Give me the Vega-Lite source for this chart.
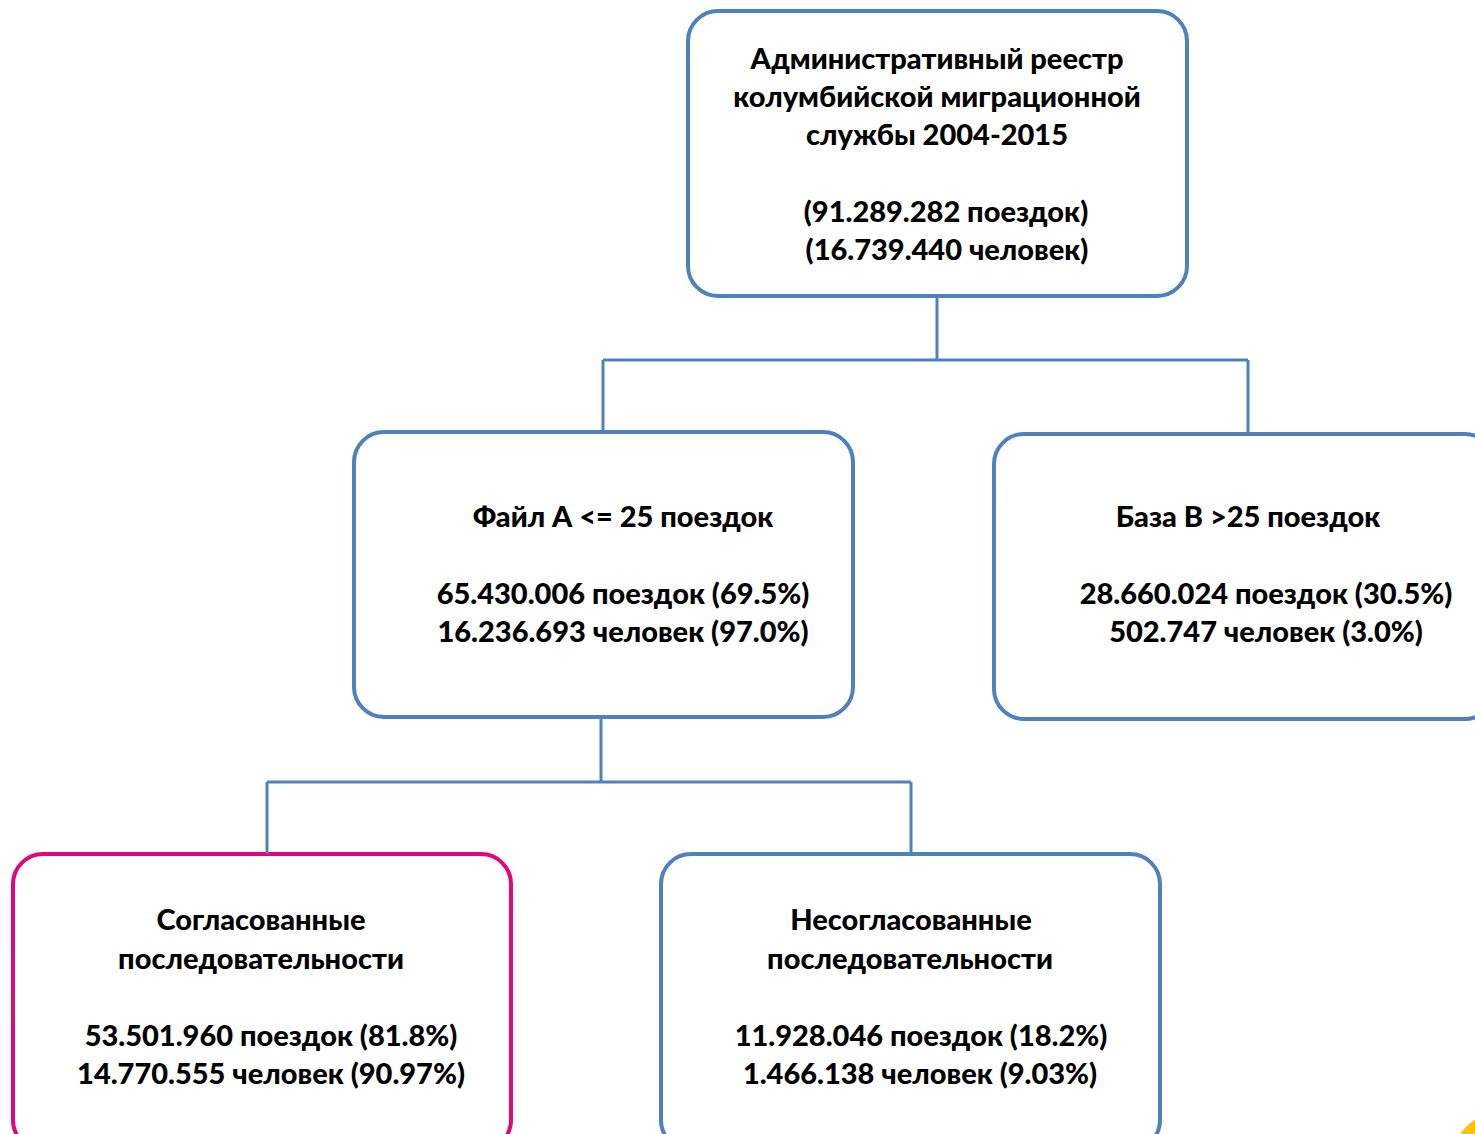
{
  "$schema": "https://vega.github.io/schema/vega-lite/v6.json",
  "autosize": {"type": "fit", "contains": "padding"},
  "width": 1475,
  "height": 1134,
  "padding": 0,
  "background": "white",
  "config": {"view": {"stroke": null}},
  "datasets": {
    "boxes": [
      {"id": "root", "x1": 688, "x2": 1187, "y1": 11, "y2": 296, "kind": "normal"},
      {"id": "A", "x1": 354, "x2": 853, "y1": 432, "y2": 717, "kind": "normal"},
      {"id": "B", "x1": 994, "x2": 1495, "y1": 434, "y2": 719, "kind": "normal"},
      {"id": "match", "x1": 13, "x2": 511, "y1": 854, "y2": 1150, "kind": "highlight"},
      {"id": "nomatch", "x1": 661, "x2": 1160, "y1": 854, "y2": 1150, "kind": "normal"}
    ],
    "links": [
      {"x1": 937, "y1": 296, "x2": 937, "y2": 360},
      {"x1": 603, "y1": 360, "x2": 1248, "y2": 360},
      {"x1": 603, "y1": 360, "x2": 603, "y2": 432},
      {"x1": 1248, "y1": 360, "x2": 1248, "y2": 434},
      {"x1": 601, "y1": 717, "x2": 601, "y2": 782},
      {"x1": 267, "y1": 782, "x2": 911, "y2": 782},
      {"x1": 267, "y1": 782, "x2": 267, "y2": 854},
      {"x1": 911, "y1": 782, "x2": 911, "y2": 854}
    ],
    "labels": [
      {"x": 937, "y": 60, "t": "Административный реестр"},
      {"x": 937, "y": 98, "t": "колумбийской миграционной"},
      {"x": 937, "y": 136, "t": "службы 2004-2015"},
      {"x": 946, "y": 213, "t": "(91.289.282 поездок)"},
      {"x": 947, "y": 251, "t": "(16.739.440 человек)"},
      {"x": 623, "y": 518, "t": "Файл А <= 25 поездок"},
      {"x": 623, "y": 595, "t": "65.430.006 поездок (69.5%)"},
      {"x": 623, "y": 633, "t": "16.236.693 человек (97.0%)"},
      {"x": 1248, "y": 518, "t": "База В >25 поездок"},
      {"x": 1266, "y": 595, "t": "28.660.024 поездок (30.5%)"},
      {"x": 1266, "y": 633, "t": "502.747 человек (3.0%)"},
      {"x": 261, "y": 921, "t": "Согласованные"},
      {"x": 261, "y": 960, "t": "последовательности"},
      {"x": 271, "y": 1037, "t": "53.501.960 поездок (81.8%)"},
      {"x": 271, "y": 1075, "t": "14.770.555 человек (90.97%)"},
      {"x": 911, "y": 921, "t": "Несогласованные"},
      {"x": 910, "y": 960, "t": "последовательности"},
      {"x": 921, "y": 1037, "t": "11.928.046 поездок (18.2%)"},
      {"x": 920, "y": 1075, "t": "1.466.138 человек (9.03%)"}
    ],
    "corner": [{"x": 1500, "y": 1160}]
  },
  "layer": [
    {
      "data": {"name": "boxes"},
      "mark": {"type": "rect", "fill": "white", "strokeWidth": 4, "cornerRadius": 30, "clip": true},
      "encoding": {
        "x": {"field": "x1", "type": "quantitative", "scale": {"domain": [0, 1475], "nice": false, "zero": false}, "axis": null},
        "x2": {"field": "x2"},
        "y": {"field": "y1", "type": "quantitative", "scale": {"domain": [0, 1134], "reverse": true, "nice": false, "zero": false}, "axis": null},
        "y2": {"field": "y2"},
        "stroke": {"field": "kind", "type": "nominal", "scale": {"domain": ["normal", "highlight"], "range": ["#4F81BD", "#E0077D"]}, "legend": null}
      }
    },
    {
      "data": {"name": "links"},
      "mark": {"type": "rule", "color": "#4F81BD", "strokeWidth": 3},
      "encoding": {
        "x": {"field": "x1", "type": "quantitative"},
        "x2": {"field": "x2"},
        "y": {"field": "y1", "type": "quantitative"},
        "y2": {"field": "y2"}
      }
    },
    {
      "data": {"name": "corner"},
      "mark": {"type": "point", "filled": true, "color": "#FFC000", "size": 9000, "opacity": 1, "clip": true},
      "encoding": {
        "x": {"field": "x", "type": "quantitative"},
        "y": {"field": "y", "type": "quantitative"}
      }
    },
    {
      "data": {"name": "labels"},
      "mark": {"type": "text", "font": "Lato", "fontWeight": 900, "fontSize": 29, "color": "black", "align": "center", "baseline": "middle"},
      "encoding": {
        "x": {"field": "x", "type": "quantitative"},
        "y": {"field": "y", "type": "quantitative"},
        "text": {"field": "t", "type": "nominal"}
      }
    }
  ]
}
